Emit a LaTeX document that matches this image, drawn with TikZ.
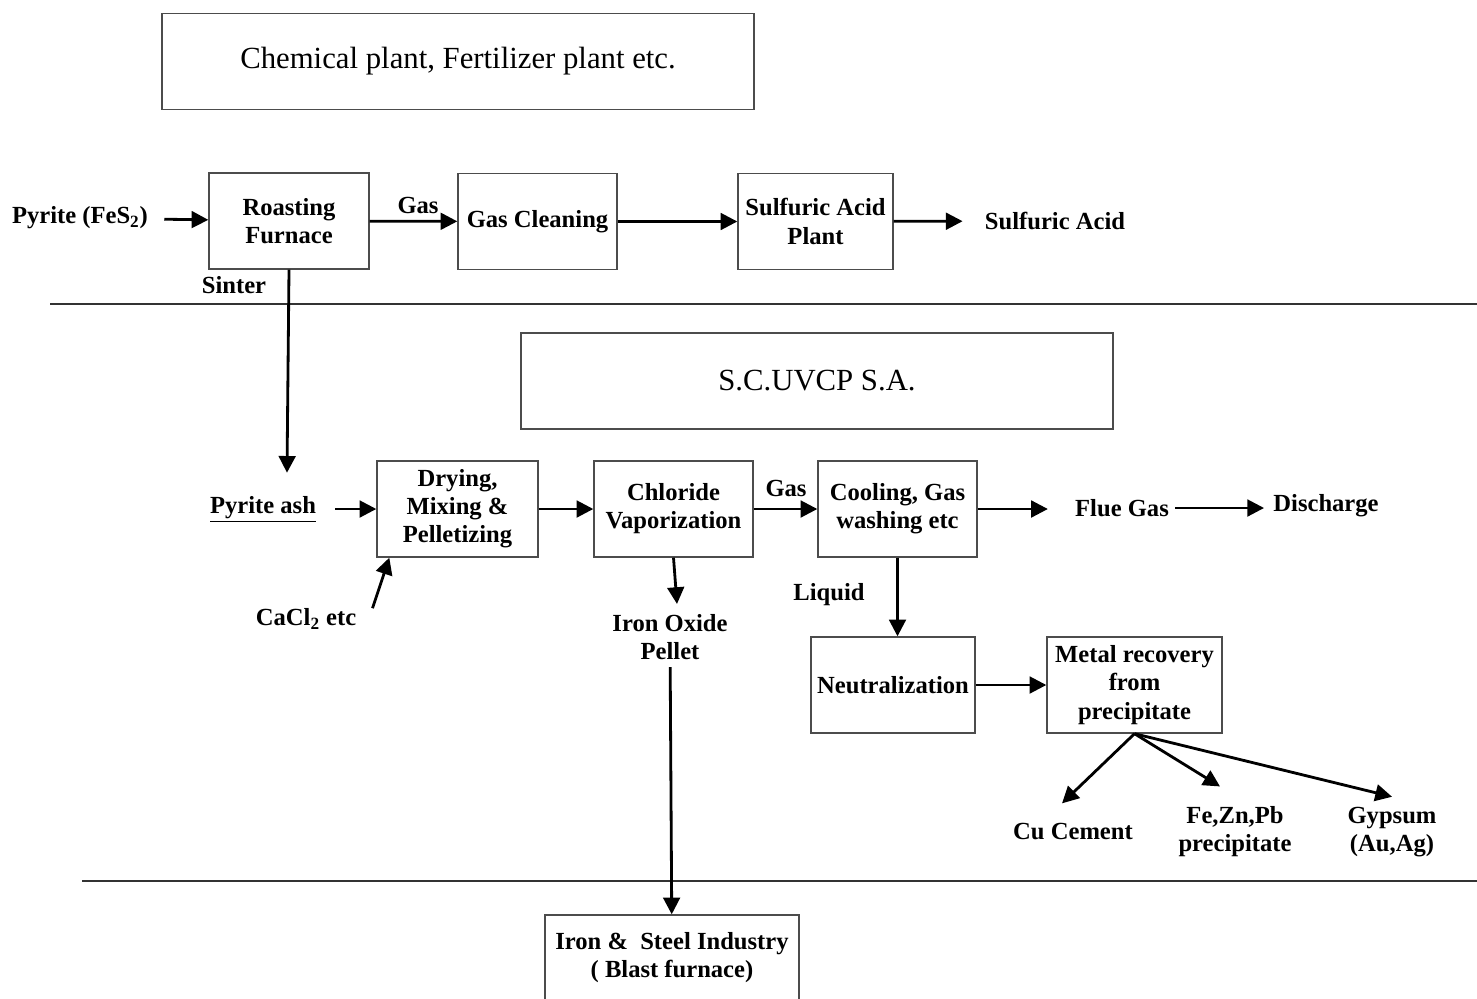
\documentclass[tikz,border=0pt]{standalone}
\usepackage{fontspec}
\setmainfont{Liberation Serif}
\usetikzlibrary{arrows.meta}

\begin{document}
\begin{tikzpicture}[%
    box/.style = {draw = black!70, line width = 0.8pt, align = center, font = \fontsize{14}{16}\selectfont\bfseries, inner sep = 0pt, minimum height = 1.92cm},
    heading/.style = {draw = black!70, line width = 0.8pt, font = \fontsize{17.5}{20}\selectfont, minimum width = 11.84cm, minimum height = 1.92cm},
    tag/.style = {align = center, font = \fontsize{14}{16}\selectfont\bfseries, inner sep = 0pt},
    flow/.style = {-{Triangle[length = 9.5pt, width = 9.5pt]}, line width = 1.6pt},
    divider/.style = {line width = 0.8pt, draw = black!80},
    x = 0.02cm, y = -0.02cm]

    \useasboundingbox (0, 0) rectangle (1477, 998);

    % top: sulfuric acid line
    \node[heading] (chem) at (458, 61.5) {Chemical plant, Fertilizer plant etc.};
    \node[tag] (pyrite) at (80, 218) {Pyrite (FeS\textsubscript{2})};
    \node[box, minimum width = 3.2cm] (roast) at (289, 221) {Roasting\\Furnace};
    \node[box, minimum width = 3.18cm] (clean) at (537.5, 221.5) {Gas Cleaning};
    \node[box, minimum width = 3.1cm] (acid) at (815.5, 221.5) {Sulfuric Acid\\Plant};
    \node[tag] (acidout) at (1055, 221) {Sulfuric Acid};
    \node[tag] (gas1) at (418, 205) {Gas};
    \node[tag] (sinter) at (234, 285) {Sinter};

    \draw[flow, shorten <= 0.32cm] (pyrite) -- (roast);
    \draw[flow] (roast) -- (clean);
    \draw[flow] (clean) -- (acid);
    \draw[flow, shorten >= 0.44cm] (acid) -- (acidout);

    \draw[divider] (50, 304) -- (1477, 304);

    % middle: S.C.UVCP S.A.
    \node[heading] (uvcp) at (817, 381) {S.C.UVCP S.A.};
    \node[tag] (ash) at (263, 509) {\underline{Pyrite ash}};
    \node[box, minimum width = 3.22cm] (dry) at (457.5, 509) {Drying,\\Mixing \&\\Pelletizing};
    \node[tag] (cacl) at (306, 619) {CaCl\textsubscript{2} etc};
    \node[box, minimum width = 3.18cm] (chlor) at (673.5, 509) {Chloride\\Vaporization};
    \node[tag] (gas2) at (786, 488) {Gas};
    \node[box, minimum width = 3.18cm] (cool) at (897.5, 509) {Cooling, Gas\\washing etc};
    \node[tag] (flue) at (1122, 508) {Flue Gas};
    \node[tag] (disch) at (1326, 506) {Discharge};
    \node[tag] (liquid) at (829, 595) {Liquid};
    \node[tag] (oxide) at (670, 637) {Iron Oxide\\Pellet};
    \node[box, minimum width = 3.28cm] (neut) at (893, 685) {Neutralization};
    \node[box, minimum width = 3.5cm] (metal) at (1134.5, 685) {Metal recovery\\from\\precipitate};
    \node[tag] (cu) at (1073, 831) {Cu Cement};
    \node[tag] (fezn) at (1235, 832) {Fe,Zn,Pb\\precipitate};
    \node[tag] (gyp) at (1392, 832) {Gypsum\\(Au,Ag)};

    \draw[flow] (roast.south) -- ([xshift = 0.48cm, yshift = 0.46cm]ash.north);
    \draw[flow, shorten <= 0.38cm] (ash) -- (dry);
    \draw[flow] ([xshift = 0.32cm]cacl.north east) -- ([xshift = 0.26cm]dry.south west);
    \draw[flow] (dry) -- (chlor);
    \draw[flow] (chlor) -- (cool);
    \draw[flow, shorten >= 0.54cm] (cool) -- (cool -| flue.west);
    \draw[flow, shorten <= 0.12cm, shorten >= 0.18cm] (flue) -- (flue -| disch.west);
    \draw[flow] (chlor.south) -- ([xshift = 0.14cm, yshift = 0.2cm]oxide.north);
    \draw[flow] (cool.south) -- (cool.south |- neut.north);
    \draw[flow] (neut) -- (metal);
    \draw[flow] (metal.south) -- ([xshift = -0.22cm, yshift = 0.38cm]cu.north);
    \draw[flow] (metal.south) -- ([xshift = -0.3cm, yshift = 0.4cm]fezn.north);
    \draw[flow] (metal.south) -- ([yshift = 0.2cm]gyp.north);

    \draw[divider] (82, 881) -- (1477, 881);

    % bottom: iron and steel
    \node[box, minimum width = 5.08cm, minimum height = 1.7cm] (steel) at (672, 957.5) {Iron \&\ \ Steel Industry\\( Blast furnace)};
    \draw[flow, shorten <= 0.14cm] (oxide) -- (steel);
\end{tikzpicture}
\end{document}
